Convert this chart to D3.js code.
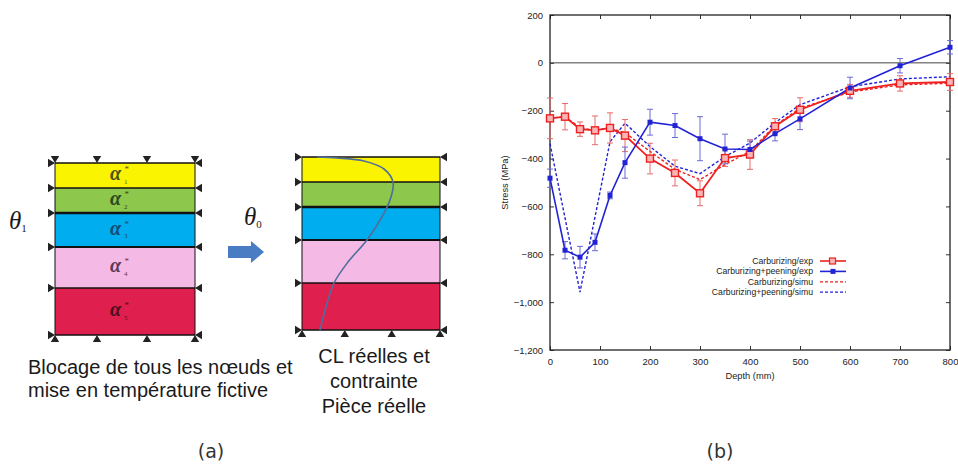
<!DOCTYPE html>
<html><head><meta charset="utf-8">
<script src="https://cdn.jsdelivr.net/npm/d3@7"></script>
<style>body{margin:0;background:#fff}svg{display:block}</style>
</head><body>
<svg id="c" width="958" height="467"></svg>
<script>
// ---------- Chart (b) data ----------
const depthExp   = [0,30,60,90,120,150,200,250,300,350,400,450,500,600,700,800];
const carbExp    = [-232,-225,-277,-282,-272,-304,-400,-460,-545,-398,-383,-265,-196,-117,-86,-80];
const carbExpErr = [85,55,30,60,63,67,64,54,52,35,62,32,50,27,32,35];
const peenExp    = [-482,-783,-812,-750,-554,-417,-248,-262,-317,-360,-362,-296,-234,-105,-12,65];
const peenExpErr = [38,36,45,35,14,65,54,50,92,62,35,30,45,45,30,28];
const depthCarbSimu = [0,30,60,90,120,150,200,250,300,350,400,450,500,600,700,800];
const carbSimu      = [-230,-226,-270,-283,-272,-292,-370,-445,-488,-425,-370,-262,-190,-122,-92,-85];
const depthPeenSimu = [0,60,120,150,200,250,300,350,400,450,500,600,700,800];
const peenSimu      = [-338,-958,-330,-252,-350,-432,-463,-392,-335,-250,-175,-100,-67,-58];
const xTicks = [0,100,200,300,400,500,600,700,800];
const yTicks = [-1200,-1000,-800,-600,-400,-200,0,200];
const legendLabels = ["Carburizing/exp","Carburizing+peening/exp","Carburizing/simu","Carburizing+peening/simu"];

// ---------- Diagram (a) data ----------
const layerLabels = ["1","2","3","4","5"];
const layerThickLeft  = [25,25,34,41,47];
const layerThickRight = [25,25,33,43,47];
const layerColors = ["#fbf400","#8dc74b","#00adee","#f5b9e5","#df1f4d"];
const layerTextColors = ["#4d5418","#2a4a1e","#174a72","#5a3a5a","#4a0f22"];
const boundaryWidths = [1,1.6,2.6,2.2,1.4,1];
const supportFracLeft  = [0,0.3,0.657,1];
const supportFracRight = [0,0.31,0.65,1];
// stress profile in right box: [relative x, depth]
const profileX = [15,35,62,82,91,89,81,65,46,32,24,18];
const profileD = [0,1,4,12,25,40,58,83,105,126,150,173];
const captionA = ["Blocage de tous les nœuds et","mise en température fictive"];
const captionB = ["CL réelles et","contrainte","Pièce réelle"];

const svg = d3.select("#c");
svg.append("rect").attr("width",958).attr("height",467).attr("fill","#fff");

// ================= Diagram (a) =================
function drawBox(x0, x1, y0, thick, fracs, opts){
  const total = d3.sum(thick);
  const yS = d3.scaleLinear().domain([0,total]).range([y0, y0+opts.height]);
  const xS = d3.scaleLinear().domain([0,1]).range([x0,x1]);
  const cum = [0]; thick.forEach((t,i)=>cum.push(cum[i]+t));
  const g = svg.append("g");
  g.selectAll("rect.layer").data(thick).join("rect")
    .attr("x",x0).attr("width",x1-x0)
    .attr("y",(d,i)=>yS(cum[i])).attr("height",(d,i)=>yS(cum[i+1])-yS(cum[i]))
    .attr("fill",(d,i)=>layerColors[i]);
  g.append("rect").attr("x",x0).attr("y",yS(0)).attr("width",x1-x0).attr("height",yS(total)-yS(0))
    .attr("fill","none").attr("stroke","#111").attr("stroke-width",1);
  g.selectAll("line.b").data(cum).join("line")
    .attr("x1",x0).attr("x2",x1).attr("y1",d=>yS(d)).attr("y2",d=>yS(d))
    .attr("stroke","#111").attr("stroke-width",(d,i)=>boundaryWidths[i]);
  const tri = (cx,cy,dir)=>{ // dir: tip direction
    const h=7,w=4.2; let p;
    if(dir==="right") p=[[cx,cy],[cx-h,cy-w],[cx-h,cy+w]];
    if(dir==="left")  p=[[cx,cy],[cx+h,cy-w],[cx+h,cy+w]];
    if(dir==="down")  p=[[cx,cy],[cx-w,cy-h],[cx+w,cy-h]];
    if(dir==="up")    p=[[cx,cy],[cx-w,cy+h],[cx+w,cy+h]];
    g.append("path").attr("d","M"+p.map(q=>q.join(",")).join("L")+"Z").attr("fill","#222");
  };
  cum.forEach(d=>{ tri(x0, yS(d), "right"); tri(x1, yS(d), "left"); });
  fracs.forEach(f=>{ tri(xS(f), yS(total), "up"); if(opts.top) tri(xS(f), yS(0), "down"); });
  return {xS,yS,cum,total};
}

const L = drawBox(55,195,163,layerThickLeft,supportFracLeft,{height:172,top:true});
// alpha labels
layerLabels.forEach((lab,i)=>{
  const cy = (L.yS(L.cum[i])+L.yS(L.cum[i+1]))/2 + 4.5;
  const col = layerTextColors[i];
  svg.append("text").attr("x",110).attr("y",cy)
    .attr("font-family","Liberation Serif").attr("font-style","italic").attr("font-weight","bold")
    .attr("font-size",20).attr("fill",col).text("α");
  svg.append("text").attr("x",124).attr("y",cy+3.5)
    .attr("font-family","Liberation Serif").attr("font-size",7).attr("fill",col).text(lab);
  svg.append("text").attr("x",124.5).attr("y",cy-8)
    .attr("font-family","Liberation Serif").attr("font-size",9).attr("fill",col).text("*");
});

const R = drawBox(302,440,157,layerThickRight,supportFracRight,{height:173,top:false});
const prof = profileX.map((px,i)=>[302+px, R.yS(profileD[i])]);
svg.append("path").attr("d",d3.line().curve(d3.curveCatmullRom)(prof))
  .attr("fill","none").attr("stroke","#4f6e9c").attr("stroke-width",1.6);

// theta labels
function theta(x,y,sub){
  const t = svg.append("text").attr("x",x).attr("y",y).attr("font-family","Liberation Serif")
    .attr("font-style","italic").attr("font-size",25).attr("fill","#1a1a1a");
  t.append("tspan").text("θ");
  t.append("tspan").attr("font-size",11).attr("font-style","normal").attr("dy",3).text(sub);
}
theta(9,229,"1");
theta(244,225,"0");

// arrow
svg.append("path").attr("d","M228,246 L251,246 L251,241 L264,252 L251,263 L251,258 L228,258 Z")
  .attr("fill","#4a7cc4");

// captions
svg.selectAll("text.capA").data(captionA).join("text")
  .attr("x",28).attr("y",(d,i)=>374+i*23).attr("font-family","Liberation Sans")
  .attr("font-size",20).attr("fill","#1a1a1a").text(d=>d);
svg.selectAll("text.capB").data(captionB).join("text")
  .attr("x",374).attr("y",(d,i)=>363+i*25).attr("text-anchor","middle").attr("font-family","Liberation Sans")
  .attr("font-size",20).attr("fill","#1a1a1a").text(d=>d);

// ================= Chart (b) =================
const x = d3.scaleLinear().domain([0,800]).range([550,950]);
const y = d3.scaleLinear().domain([-1200,200]).range([350,15]);
const RED="#ee2020", BLUE="#2323d6", REDE="#e86a6a", BLUEE="#6a6ad6";

const axFont = g=>g.selectAll("text").attr("font-family","Liberation Sans").attr("font-size",9.5).attr("fill","#222");
svg.append("g").attr("transform","translate(0,350)")
  .call(d3.axisBottom(x).tickValues(xTicks).tickSize(-4).tickPadding(8))
  .call(g=>g.select(".domain").remove()).call(axFont).call(g=>g.selectAll("line").attr("stroke","#333"));
svg.append("g").attr("transform","translate(550,0)")
  .call(d3.axisLeft(y).tickValues(yTicks).tickSize(-4).tickPadding(7))
  .call(g=>g.select(".domain").remove()).call(axFont).call(g=>g.selectAll("line").attr("stroke","#333"));
svg.append("g").attr("transform","translate(0,15)")
  .call(d3.axisTop(x).tickValues(xTicks).tickSize(-4).tickFormat(""))
  .call(g=>g.select(".domain").remove()).call(g=>g.selectAll("line").attr("stroke","#333"));
svg.append("g").attr("transform","translate(950,0)")
  .call(d3.axisRight(y).tickValues(yTicks).tickSize(-4).tickFormat(""))
  .call(g=>g.select(".domain").remove()).call(g=>g.selectAll("line").attr("stroke","#333"));
svg.append("rect").attr("x",x(0)).attr("y",y(200)).attr("width",x(800)-x(0)).attr("height",y(-1200)-y(200))
  .attr("fill","none").attr("stroke","#222").attr("stroke-width",1.3);
svg.append("line").attr("x1",x(0)).attr("x2",x(800)).attr("y1",y(0)).attr("y2",y(0))
  .attr("stroke","#444").attr("stroke-width",1);

svg.append("text").attr("transform",`translate(508,${y(-500)}) rotate(-90)`).attr("text-anchor","middle")
  .attr("font-family","Liberation Sans").attr("font-size",9.3).attr("fill","#222").text("Stress (MPa)");
svg.append("text").attr("x",x(400)).attr("y",379).attr("text-anchor","middle")
  .attr("font-family","Liberation Sans").attr("font-size",9.3).attr("fill","#222").text("Depth (mm)");

const line = d3.line();
const clipG = svg.append("g");
// simu dashed
clipG.append("path").attr("d",line(depthCarbSimu.map((d,i)=>[x(d),y(carbSimu[i])])))
  .attr("fill","none").attr("stroke",RED).attr("stroke-width",1.4).attr("stroke-dasharray","3,2");
clipG.append("path").attr("d",line(depthPeenSimu.map((d,i)=>[x(d),y(peenSimu[i])])))
  .attr("fill","none").attr("stroke",BLUE).attr("stroke-width",1.4).attr("stroke-dasharray","3,2");

function errBars(vals, errs, col){
  const g = clipG.append("g").attr("stroke",col).attr("stroke-width",1);
  depthExp.forEach((d,i)=>{
    const cx=x(d), y1=y(vals[i]+errs[i]), y2=y(vals[i]-errs[i]);
    g.append("line").attr("x1",cx).attr("x2",cx).attr("y1",y1).attr("y2",y2);
    g.append("line").attr("x1",cx-3).attr("x2",cx+3).attr("y1",y1).attr("y2",y1);
    g.append("line").attr("x1",cx-3).attr("x2",cx+3).attr("y1",y2).attr("y2",y2);
  });
}
errBars(carbExp, carbExpErr, REDE);
errBars(peenExp, peenExpErr, BLUEE);

clipG.append("path").attr("d",line(depthExp.map((d,i)=>[x(d),y(carbExp[i])])))
  .attr("fill","none").attr("stroke",RED).attr("stroke-width",1.8);
clipG.append("path").attr("d",line(depthExp.map((d,i)=>[x(d),y(peenExp[i])])))
  .attr("fill","none").attr("stroke",BLUE).attr("stroke-width",1.6);

clipG.selectAll("rect.rm").data(carbExp).join("rect")
  .attr("x",(d,i)=>x(depthExp[i])-3.5).attr("y",d=>y(d)-3.5).attr("width",7).attr("height",7)
  .attr("fill","#f7b5b5").attr("stroke",RED).attr("stroke-width",1.4);
clipG.selectAll("rect.bm").data(peenExp).join("rect")
  .attr("x",(d,i)=>x(depthExp[i])-2.5).attr("y",d=>y(d)-2.5).attr("width",5).attr("height",5)
  .attr("fill",BLUE);

// legend
const lg = svg.append("g");
legendLabels.forEach((lab,i)=>{
  const cy = 261 + i*10.4;
  lg.append("text").attr("x",813).attr("y",cy+3).attr("text-anchor","end")
    .attr("font-family","Liberation Sans").attr("font-size",8.7).attr("fill","#222").text(lab);
  const col = i%2===0?RED:BLUE;
  lg.append("line").attr("x1",820).attr("x2",846).attr("y1",cy).attr("y2",cy)
    .attr("stroke",col).attr("stroke-width",i<2?1.6:1.3).attr("stroke-dasharray",i<2?null:"3,2");
  if(i===0) lg.append("rect").attr("x",829.5).attr("y",cy-3).attr("width",6).attr("height",6)
    .attr("fill","#f7b5b5").attr("stroke",RED).attr("stroke-width",1.2);
  if(i===1) lg.append("rect").attr("x",830.5).attr("y",cy-2.5).attr("width",5).attr("height",5).attr("fill",BLUE);
});

// panel labels
svg.selectAll("text.panel").data(["(a)","(b)"]).join("text")
  .attr("x",(d,i)=>[211,720][i]).attr("y",458).attr("text-anchor","middle")
  .attr("font-family","DejaVu Sans").attr("font-size",19).attr("fill","#333").text(d=>d);
</script>
</body></html>
